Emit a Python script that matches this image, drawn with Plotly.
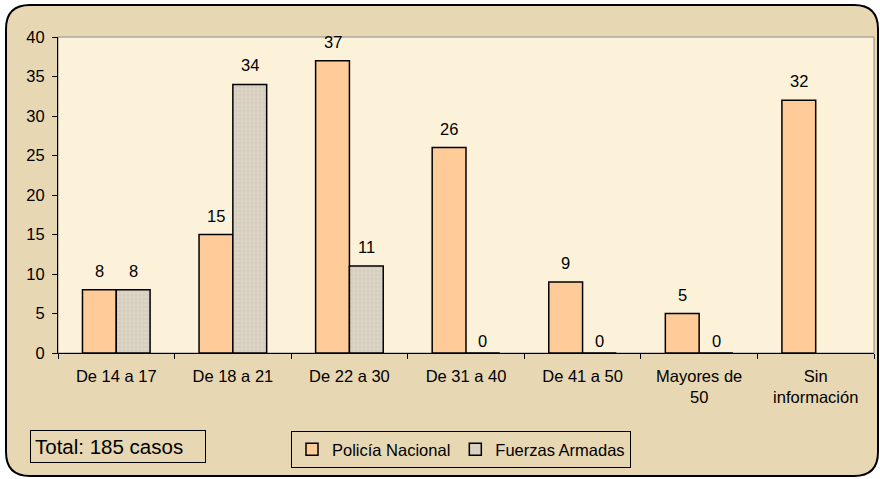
import plotly.graph_objects as go

categories = ["De 14 a 17", "De 18 a 21", "De 22 a 30", "De 31 a 40",
              "De 41 a 50", "Mayores de<br>50", "Sin<br>información"]
policia = [8, 15, 37, 26, 9, 5, 32]
fuerzas = [8, 34, 11, 0, 0, 0, None]
y_ticks = [0, 5, 10, 15, 20, 25, 30, 35, 40]

W, H = 880, 479
ML, MR, MT, MB = 58, 6, 37, 126
PW, PH = W - ML - MR, H - MT - MB
FONT = "Liberation Sans, Arial"
FS = 16.5


def px(X):
    return (X - ML) / PW


def py(Y):
    return (H - MB - Y) / PH


def rounded_rect(x0, y0, x1, y1, r):
    pts = [
        f"M{px(x0 + r)},{py(y0)}",
        f"L{px(x1 - r)},{py(y0)}",
        f"Q{px(x1)},{py(y0)} {px(x1)},{py(y0 + r)}",
        f"L{px(x1)},{py(y1 - r)}",
        f"Q{px(x1)},{py(y1)} {px(x1 - r)},{py(y1)}",
        f"L{px(x0 + r)},{py(y1)}",
        f"Q{px(x0)},{py(y1)} {px(x0)},{py(y1 - r)}",
        f"L{px(x0)},{py(y0 + r)}",
        f"Q{px(x0)},{py(y0)} {px(x0 + r)},{py(y0)}",
        "Z",
    ]
    return " ".join(pts)


fig = go.Figure()
fig.add_trace(go.Bar(
    name="Policía Nacional", x=categories, y=policia,
    marker=dict(color="#FFCC99", line=dict(color="black", width=1.5)),
))
fig.add_trace(go.Bar(
    name="Fuerzas Armadas", x=categories, y=fuerzas,
    marker=dict(color="#DDD6C6", line=dict(color="black", width=1.5),
                pattern=dict(shape="+", size=4, solidity=0.2,
                             fgcolor="#B5AE9E", bgcolor="#DDD6C6")),
))

annotations = []
n = len(categories)
for i, c in enumerate(categories):
    for v, off in ((policia[i], -0.145), (fuerzas[i], 0.145)):
        if v is None:
            continue
        annotations.append(dict(
            x=i + off, y=v, xref="x", yref="y", text=str(v), showarrow=False,
            yanchor="middle", yshift=19 if v > 0 else 12,
            font=dict(family=FONT, size=FS, color="black"),
        ))

annotations.append(dict(
    x=px(30), y=py(446), xref="paper", yref="paper", xanchor="left", yanchor="middle",
    text="Total: 185 casos", showarrow=False, align="left", width=166, height=23,
    font=dict(family=FONT, size=20.5, color="black"),
    bordercolor="black", borderwidth=1, borderpad=4, bgcolor="rgba(0,0,0,0)",
))

shapes = [
    dict(type="path", xref="paper", yref="paper", layer="below",
         path=rounded_rect(6, 5, 878, 476, 24),
         fillcolor="#E7D7B3", line=dict(color="black", width=2)),
    dict(type="rect", xref="paper", yref="paper", layer="below",
         x0=0, y0=0, x1=1, y1=1, fillcolor="#FCF2DA",
         line=dict(color="#8C8C8C", width=1)),
]

fig.update_layout(
    width=W, height=H,
    margin=dict(l=ML, r=MR, t=MT, b=MB),
    paper_bgcolor="white", plot_bgcolor="rgba(0,0,0,0)",
    barmode="group", bargap=0.42, bargroupgap=0,
    font=dict(family=FONT, size=FS, color="black"),
    showlegend=True,
    legend=dict(orientation="h", x=px(461), y=py(431), xanchor="center", yanchor="top",
                bgcolor="rgba(0,0,0,0)", bordercolor="black", borderwidth=1,
                font=dict(family=FONT, size=FS), itemwidth=30, tracegroupgap=0),
    annotations=annotations,
    shapes=shapes,
    xaxis=dict(type="category", tickson="boundaries", ticks="outside", ticklen=5,
               tickcolor="black", showline=True, linecolor="black", linewidth=1,
               showgrid=False, range=[-0.5, n - 0.5], ticklabelstandoff=8,
               tickfont=dict(family=FONT, size=FS)),
    yaxis=dict(range=[0, 40], tickvals=y_ticks, ticks="outside", ticklen=5,
               tickcolor="black", showline=True, linecolor="black", linewidth=1,
               showgrid=False, zeroline=False, ticklabelstandoff=4,
               tickfont=dict(family=FONT, size=FS)),
)

fig.write_html("out.html", config={"displayModeBar": False},
               post_script="document.body.style.margin='0';document.body.style.padding='0';")
